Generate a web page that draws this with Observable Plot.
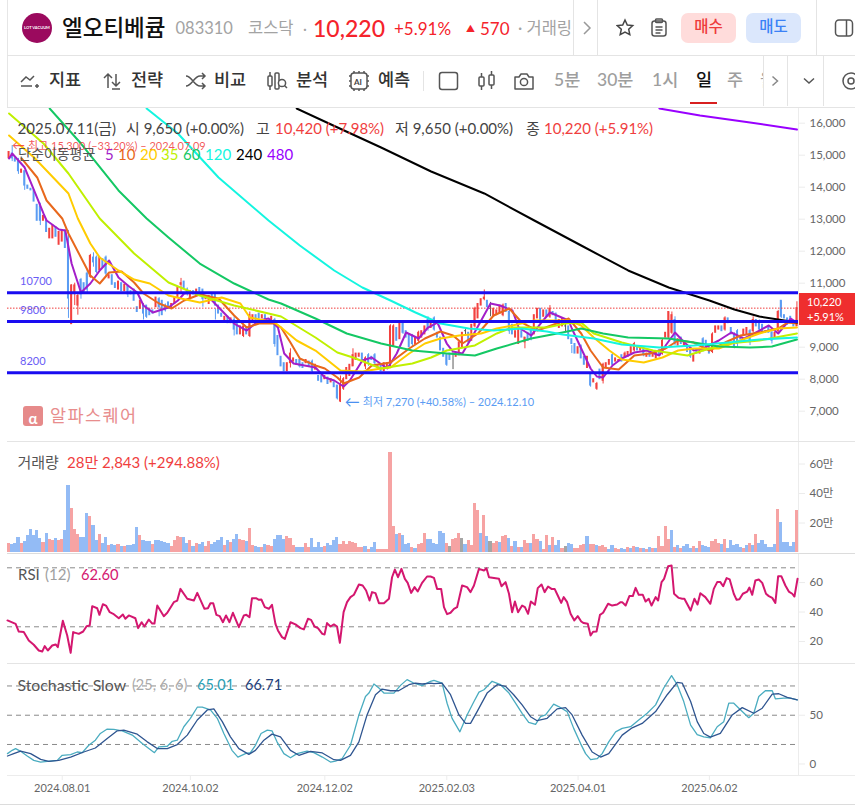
<!DOCTYPE html>
<html><head><meta charset="utf-8">
<script src="https://cdn.jsdelivr.net/npm/d3@7"></script>
<script src="https://cdn.jsdelivr.net/npm/@observablehq/plot@0.6"></script>
<style>
html,body{margin:0;padding:0;background:#fff;width:855px;height:807px;overflow:hidden;font-family:Lato,"Noto Sans CJK KR",sans-serif}
.t{position:absolute;white-space:nowrap;transform:translateY(-50%);line-height:1}
.l{position:absolute;background:#e4e4e4}
.p{position:absolute;left:0;width:855px}
.p svg{display:block}
svg.i{position:absolute;fill:none;stroke:#555;stroke-width:1.5}
</style></head><body>
<div id="root"></div>
<script>
const N = 253;
const opens = [
14900,15050,14900,14800,14450,14500,14050,13950,13900,13450,
13400,12950,12950,12400,12400,12750,12200,12300,12650,12240,
9720,10700,10300,11100,11000,11300,11200,11800,11800,11400,
11750,11800,11150,11250,11000,10800,11000,10750,10900,10750,
10800,10250,10200,10350,10300,10200,10150,10250,10500,10450,
10300,10400,10200,10350,10550,10950,11050,10800,10500,10750,
10650,10850,10800,10500,10350,10650,10650,10300,10050,9800,
9950,9750,9850,9750,9400,9350,9600,9350,9750,10000,
10050,9900,10000,9750,9800,9850,9350,
8700,8500,8250,8500,8550,8600,8600,8500,8500,8550,8550,8300,
8100,8100,8000,8050,7900,7900,7800,7300,7700,8000,8100,8400,8600,
8700,8800,8400,8750,8700,8750,8350,8450,8250,8350,8500,9050,9600,
9250,9750,9500,9400,9350,9100,9200,9300,9400,9850,9600,9900,9450,9300,8950,
8750,8800,8800,8700,8750,9000,9500,9450,9200,9650,9900,10300,10500,10450,10200,
9950,10000,10050,10000,10350,10100,9700,9300,9100,9500,9150,9450,9550,9400,9900,
10200,9950,10150,9950,10100,10050,9600,
9650,9650,9650,9250,9100,8800,9050,8700,8350,8150,7900,7700,8300,7950,8350,8450,
8750,8550,8550,8750,8700,8700,8800,8900,9000,8900,8950,8700,8850,8700,8650,8900,
8800,9300,9300,9450,9850,9050,9300,9050,9000,8900,8550,8850,8800,9250,9200,9000,
8850,9450,9550,9650,9550,9900,9600,9400,9500,9300,9350,9400,9500,9500,9850,9800,
9700,9500,9600,9450,9300,9500,10450,10000,9900,9950,9750,9650];
const closes = [
15100,14900,14800,14500,14550,14050,13950,13900,13550,12950,
12950,13100,12600,12700,12800,12450,12600,12650,12100,10520,
10930,10930,10600,10650,10700,10800,11850,11650,11350,11800,
11500,11300,11250,10950,10850,11050,10750,10950,10650,10650,
10450,10100,10450,10050,9950,10000,10050,10550,10250,10000,
10150,10200,10350,10550,10850,11000,10850,10700,10750,10650,
10800,10650,10500,10600,10600,10500,10300,10050,9950,9950,
9750,9900,9550,9400,9650,9650,9400,10000,10000,9850,
9900,10000,9800,9800,9950,9100,8750,
8400,8250,8500,8800,8650,8450,8400,8350,8600,8400,8250,8450,
7950,7900,8100,7850,8000,7750,7400,7800,8000,8350,8450,8750,8800,
8800,8600,8650,8500,8600,8500,8400,8250,8500,8500,9650,9650,9200,
9750,9450,9300,9000,9100,9300,9450,9500,9650,9600,9850,9550,9300,8900,8700,
8450,8600,8800,8800,9150,9450,9500,9150,9700,10200,10350,10500,10550,10250,10200,
10200,10150,10300,10300,10100,9500,9400,9500,9600,9300,9300,9200,9250,10000,10200,
9850,10150,9950,10200,10000,9800,9850,
9900,9650,9250,9100,8800,9000,8650,8450,8700,7800,8000,7850,8000,8450,8500,8600,
8450,8650,8600,8550,8800,8850,9000,9100,8900,9000,8750,8800,8700,8800,8850,8750,
9200,9450,10100,10000,9100,9250,9100,9150,8850,8700,8750,8800,8950,8900,9000,8800,
9400,9650,9650,9500,9900,9750,9400,9000,9100,9250,9550,9600,9150,9850,9650,9550,
9450,9450,9450,9200,9450,10100,9950,9900,9700,9750,9650,10220];
const wickBars = [1,3,5,10,19,20,21,22,23,25,26,27,28,31,38,43,44,48,50,55,57,62,66,72,75,77,85,90,93,97,105,106,107,110,114,115,117,122,123,126,129,131,134,136,140,142,146,149,152,154,158,160,165,167,173,178,180,186,188,190,193,197,200,203,209,211,212,213,216,218,222,225,229,232,233,237,238,240,244,246,247,252];
const wickHighs = [15300,14900,14500,13500,12650,10950,11000,10700,11150,11400,11900,11950,11850,11850,10950,10350,10250,10550,10350,11150,10850,10650,10200,9950,9450,10100,9900,8950,8650,8600,7800,8100,8050,8950,8700,8800,8800,9700,9700,9800,9400,9500,9950,9950,8800,8800,9550,10250,10790,10400,10350,10150,9300,9600,10300,9850,9050,8200,7900,8500,8800,8850,9150,9000,9250,10100,10100,9950,9200,8950,9300,9450,9950,9450,9550,9550,9950,9850,9500,10150,10450,10420];
const wickLows = [14800,14400,13900,12800,9900,9720,10300,10000,10500,10700,11150,11500,11300,11200,10550,9850,9900,9950,10100,10650,10600,10250,9850,9350,9300,9300,9000,8350,8350,8200,7350,7270,7650,8400,8300,8400,8400,8350,9000,9400,9000,9150,9500,9500,8400,8300,9350,9600,10450,9950,9950,9400,8950,9200,9900,9450,8800,7750,7650,7850,8400,8650,8850,8700,8750,9250,9400,9050,9000,8650,8850,8800,9500,8950,9000,9050,9450,9450,9100,9450,9900,9650];

const ma5Bars = [0,1,5,8,11,12,16,18,20,23,26,29,32,35,38,41,43,46,51,54,56,60,64,68,72,76,80,83,86,88,91,98,101,104,107,109,113,116,121,124,127,131,134,137,140,142,145,148,151,154,157,161,163,167,170,173,179,180,183,186,188,190,193,196,200,204,208,210,213,216,219,222,227,231,235,240,243,246,250,252];
const ma5Vals = [14897,15053,14615,13897,13178,12959,12678,12647,11615,10709,10990,11397,11709,11178,10928,10709,10303,10084,10240,10459,10678,10709,10553,10147,9740,9521,9834,9896,9615,8803,8490,8365,8053,7959,7771,7959,8584,8678,8334,8803,9459,9271,9615,9771,9115,8865,8803,9303,9834,10365,10303,10147,9615,9365,9740,10084,9834,9584,8959,8334,8084,8053,8428,8646,8834,8896,8740,9053,9459,9146,8896,8959,9209,9459,9271,9521,9678,9428,9896,9771];
const ma10Bars = [4,9,12,17,19,23,26,29,32,36,40,43,48,52,56,61,67,72,76,80,85,87,90,93,98,101,105,107,112,116,122,128,133,138,142,145,150,155,160,164,169,176,179,183,186,190,195,200,205,210,214,219,224,229,234,240,246,249,252];
const ma10Vals = [14897,14303,13584,13022,12553,11803,11240,10990,11334,11365,11022,10678,10365,10209,10459,10646,10521,9990,9615,9740,9740,9615,9146,8646,8428,8334,8053,7865,8053,8428,8521,8959,9271,9490,9365,9115,9428,9990,10209,9771,9521,9771,9896,9428,8896,8365,8303,8740,8803,8959,9209,9146,8896,9146,9365,9459,9584,9771,9740];
const ma20Bars = [0,8,19,22,26,29,35,40,45,51,55,61,68,74,77,85,87,92,98,106,113,119,122,128,133,138,144,151,156,161,168,179,183,187,192,196,203,209,214,219,227,232,240,246,252];
const ma20Vals = [15615,14928,13803,13022,12240,11803,11397,11115,10990,10615,10521,10397,10553,10365,9928,9771,9615,9209,8896,8271,8240,8334,8365,8803,9115,9271,9365,9428,9584,9678,9834,9834,9678,9303,8896,8615,8521,8678,8896,8959,8959,9146,9428,9584,9615];
const ma35Bars = [0,11,19,29,40,51,61,72,83,87,98,105,110,119,129,135,140,149,156,161,172,178,183,187,196,206,217,222,230,240,252];
const ma35Vals = [16303,15365,14428,13022,11928,11022,10615,10303,10053,9959,9303,8834,8678,8334,8490,8678,8896,9053,9428,9615,9615,9740,9771,9428,9146,8896,8740,8896,9115,9209,9428];
const ma60Bars = [13,23,35,44,51,61,72,83,87,98,108,119,129,140,149,156,167,177,183,190,198,211,219,227,237,244,252];
const ma60Vals = [16459,15365,13897,13022,12428,11615,10990,10490,10365,9896,9428,9115,8896,8803,8740,8959,9271,9459,9584,9428,9303,9271,9146,9021,8990,9021,9240];
const ma120Bars = [44,54,67,83,93,104,113,122,130,138,147,155,164,172,177,187,196,208,219,230,240,252];
const ma120Vals = [16459,15678,14303,12959,12178,11397,10865,10459,10084,9740,9584,9521,9584,9490,9400,9271,9084,8990,9053,9146,9240,9303];
const ma240Bars = [92,103,119,135,152,168,183,198,211,217,224,232,240,246,252];
const ma240Vals = [16459,15959,15240,14490,13803,12959,12178,11397,10865,10678,10459,10178,9959,9865,9771];
const ma480Bars = [208,221,237,252];
const ma480Vals = [16459,16240,16022,15803];
const maColors = ["#a31ec9","#e8681c","#ffcc00","#c0f000","#14c864","#14f5e0","#000000","#9900ff"];
const maNames = ["5","10","20","35","60","120","240","480"];

const levels = [10700,9800,8200];
const shownPriceTicks = [16000,15000,14000,13000,12000,11000,9000,8000,7000];

const volumes = [
6.1,5.6,6.1,10.2,6.1,7.5,11.5,15.6,11.5,14.9,
9.5,6.8,12.9,8.8,8.1,9.5,8.1,8.8,14.9,45.4,
29.8,15.6,12.2,10.2,10.2,26.4,24.4,18.3,8.1,12.2,
6.1,10.2,4.7,5.4,5,5.4,4.1,4.1,4.7,4.5,
5.4,17,11.5,8.1,7.5,7.5,5.4,8.1,8.1,7.5,
6.8,6.3,4.1,8.1,10.8,10.2,10.2,6.1,8.1,4.1,
6.1,5.4,6.8,4.1,7.5,5.4,6.8,8.1,10.2,4.7,
8.1,6.8,8.8,12.2,8.8,8.1,7.5,16.3,4.7,4.1,
3.4,3.4,5.4,4.7,4.1,8.8,11.5,11.5,8.8,10.8,
9.5,4.7,3.4,3.4,3.4,6.1,3.4,9.5,3.4,6.8,
3.4,4.1,6.1,4.7,8.1,10.2,5.4,7.5,5.4,7.5,
6.8,6.1,3.4,3.4,4.1,2,3.4,6.8,2,2,
2,2,67.8,17.6,12.2,12.9,11.5,5.4,6.1,3.4,
2.7,5.4,6.1,12.9,8.8,8.8,6.1,5.4,14.2,12.9,
6.1,4.1,8.8,9.5,12.9,9.5,5.4,8.1,5,33.2,
28.5,12.9,25.1,10.8,7.5,6.1,7.5,6.8,10.8,11.5,
9.5,4.1,7.5,3.4,3.4,8.1,6.1,6.1,12.2,8.8,
7.5,2.3,11.5,4.7,10.2,4.7,8.1,2.7,4.1,6.1,5.4,
2.7,2.7,4.7,5.4,10.8,5.4,5.4,4.7,4.1,4.7,
3.4,2,4.7,2.7,2,2.7,2,3.4,2.7,4.1,3.4,
2.7,2.7,2,3.4,2.7,2.7,10.8,4.1,17.6,8.8,
14.9,3.4,4.7,2.7,4.1,5.4,2.7,4.1,2.7,7.5,4.7,
4.1,3.4,7.5,8.8,6.1,5.4,8.8,2.7,8.1,4.7,
5.4,3.4,2.7,4.7,6.1,4.7,12.2,6.1,8.1,5.4,3.4,
3.4,5.4,29.2,20.3,6.8,6.8,4.1,6.8,28.3];
const volumeDirRows = [
"uddduddddd","duduuduudd","uuudddyddu".replace("y","u"),"dduddududd",
"ddudddddudd".slice(0,0)+"ddudddudd"+"d".slice(0,0)+"d","dduuuuddud","uddu"+"uddddu","duddu"+"uduud",
"dudu"+"uddddu","uuddduuddd","duddddduuu".slice(0,0)+"dudddduuuu","uuuuduudduu".slice(0,0)+"uuuududd"+"uu",
"uuuududdd"+"u","duuudddddd","uguuugd"+"uuu","ududguuduu",
"dududuuduu","duududdugdd","uuuuduuduu","uddUuddudud".toLowerCase(),
"udududuuuu","dududdduduD".toLowerCase(),"dduuududdd","dduduududdd".slice(0,0)+"ddududuDddd".toLowerCase(),
"dduddddd"+"u"];
const volumeDirs = volumeDirRows.join("").split("");

const rsiBars = [-0.5,2.1,3.1,4.7,6.3,7.9,9.5,10.6,11.4,12.4,13.8,14.9,15.6,17.2,18.6,19.7,20.5,22.3,23.7,24.8,25.8,26.6,28.2,28.9,30,31,32.2,33.3,35.1,36.4,37.2,38.3,40.4,41.3,42.4,43.3,44.7,45.8,46.5,47.4,49.5,50.6,52.7,53.8,54.8,57,59.1,60.2,62.5,63.6,64.4,65.3,66.3,67.4,68.4,69.4,70.5,71.6,73.5,75.1,75.9,76.9,77.7,79,79.9,80.7,81.8,83.1,84.1,85.2,86,87.3,88.2,90,91.6,93.2,94.3,95.6,96.6,97.7,98.8,100.2,100.9,101.7,102.8,103.9,104.9,105.8,107,108.1,109.2,110.3,111.9,113.1,114.2,115.3,116.1,117.2,118.3,119.9,121.5,122.5,123.4,124.4,125.5,126.6,127.5,128.6,129.7,130.7,132.1,133.7,134.8,135.9,136.9,138.2,139.1,140.1,141.2,142.3,143.3,144.9,146.5,147.6,148.7,150.3,151.9,152.7,153.5,156.7,157.5,158.8,159.9,160.9,161.8,162.8,164.1,165,166,166.9,168.2,169.1,170.3,171.3,172.4,173.5,174.5,175.5,176.6,177.4,178.5,179.6,180.8,181.9,183,183.8,185.1,186,186.8,187.9,189,190,191.6,192.9,194.5,195.6,196.1,197.2,198.4,199.5,200.4,201.4,202.7,203.6,204.6,205.5,206.8,207.6,208.7,209.5,210.8,211.9,212.7,214.2,215.3,216,218,219.2,220.2,221.1,222.7,224.3,225.4,226.5,227.5,228.4,229.5,230.5,231.8,232.7,233.6,234.7,236.1,236.8,237.7,238.7,239.8,240.9,242.1,243,244.1,245.1,246,247,248.3,249.4,250.5,251.2,252.2];
const rsiVals = [34.3,32,26.8,26.4,20.7,17.8,13.9,13.2,16.9,13.9,17.3,18,16.2,34.1,24.1,12.3,26.4,25.2,26.8,30.4,30.9,44,42.6,38.1,45.3,44.4,39.9,38.8,35.8,38.3,35.4,37.7,35.8,29.1,33.1,30.2,34.9,32.2,32.2,44.4,37.2,39.5,46.7,47.8,55.7,49,47.8,53,42.2,42.6,46,46,38.1,37.2,33.1,37.7,33.1,39.5,29.7,37.7,38.1,36.5,49.4,49.4,48.3,48.5,43.3,42.2,44.9,32,27.5,23,21.8,33.1,31.6,29.1,28.2,35.4,34.7,30.2,29.1,25.2,24.8,32.5,30.2,31.6,30.2,19.1,39.9,46.7,50.1,51.7,58.7,58,54.6,47.8,53.5,52.8,46,46,49,63.6,68.8,63.6,69.3,62.5,59.8,53,56.9,53.9,59.8,64.1,64.1,63.2,55.7,55.7,43.3,38.6,39.5,42.2,43.3,58,56.9,53.5,58,69.3,68.2,69.7,63.6,62.5,57.5,60.3,52.4,39.9,47.1,39.9,44.4,43.3,38.8,47.1,44.9,56.2,58.7,53.5,57.3,55.7,55.7,51.2,46.2,50.1,46.7,38.8,34.3,37.2,33.6,32.5,32,24.1,26.6,26.8,38.1,39.5,45.6,44.4,45.1,46.7,46.7,44.4,50.8,50.8,56.4,51.7,51.7,47.1,49,44.4,50.1,47.8,60.3,62.5,71.1,71.6,52.4,49.6,49,49,41,49,45.1,52.8,50.1,45.6,55.7,60.3,60.3,57.5,63,62.1,52.4,48.3,48.7,52.4,53.9,56.6,51.7,61.4,62.1,59.8,52.4,50.8,49.6,46.2,64.3,64.3,58,53.9,52.4,50.5,62.6];
const rsiGuides = [70,30];
const rsiTicks = [60,40,20];

const kBars = [-0.5,1,2.1,3.7,5.8,7.9,10.1,12.2,15.4,17,19.7,21.8,23.4,25.5,27.6,29.2,31.4,33.5,36.2,39.4,42.6,44.7,46.5,47.9,50.6,52.2,53.8,55.9,58,60.2,61.8,64.4,66.6,68.7,71.3,73.2,75.6,77.2,78.8,80.6,82.6,84.1,85.7,87.9,90,92.1,95.3,97.5,100.2,102.8,104.4,106.5,109.2,111.9,114,115.1,116.7,118.3,119.9,123.1,125.2,127.3,129.4,132.1,134.8,135.9,138.5,140.1,141.7,144.2,146.5,148.7,150.3,151.9,154.5,157.2,159.9,162,164.1,166.2,168.4,170,171.6,174.2,175.8,178.5,180.6,182.8,184.4,186,188.1,189.7,191.8,194,196.1,198.8,201.4,204.1,206.8,209.4,211.9,213.7,215.8,218,220.1,222.2,224.3,226.5,228.6,230.2,231.8,234,236.6,238.2,239.8,241.9,244.1,245.1,247.8,249.9,252.1];
const kVals = [10.6,14,15.8,13,8.2,3.7,2,2.6,3.7,8.9,9.5,12.3,11.6,19.2,24.4,31.3,35.8,35.4,34,29.6,20.9,15.8,11.6,17.5,18.2,23.3,24.4,38.2,46.8,58.2,58.2,55.4,46.8,31.3,14,7.1,10.6,11.6,19.2,31.3,34.7,34,22.7,10.6,6.4,10.6,13.3,11.6,7.1,2,3,5.4,19.2,50.3,69.2,72.7,82,77.9,72.7,72.7,80.6,86.5,83,80.3,84.8,85.8,83,62.3,46.8,33,50.3,64,73.7,76.1,84.8,81.3,72.7,62.3,52,42.7,40.6,48.5,50.3,61.3,58.9,53.7,36.5,20.9,10.6,4.4,5.4,10.6,22.7,33,36.5,38.2,45.1,52,60.6,77.9,90.6,81.3,64,39.9,30.2,27.8,26.8,38.2,43.4,62.3,62.3,55.4,47.5,52,69.2,75.1,75.1,66.8,67.5,67.5,65.8];
const dBars = [-0.5,1.5,3.7,6.9,10.1,12.7,15.9,19.7,23.9,27.6,31.4,34.6,36.7,41,44.2,47.4,50.6,53.8,57,60.2,63.4,65.5,68.2,70.8,73.5,76.7,78.8,81.5,84.1,86.8,90,92.7,96.4,100.2,103.9,106,109.2,111.9,114.5,117.2,119.3,122,124.6,127.9,130,132.1,134.8,135.9,138.5,141.2,143.9,146,147.6,149.7,152.9,156.1,158.8,161.4,164.1,166.8,168.9,172.1,175.3,178,180.1,183.3,186.5,189.2,191.8,196.1,199.3,202.5,206.8,210.5,213.7,215.3,218,220.1,222.2,224.3,227.5,231.3,234.5,238.2,240.9,244.1,246.2,248.9,252.1];
const dVals = [8.2,10.6,13.3,10.6,4.7,2.6,3.7,7.1,12.3,16.4,26.1,34,34.7,30.6,22.7,15.8,15.8,19.9,29.6,45.1,55.4,56.5,43.4,27.8,15.8,9.9,14,24.4,30.6,27.8,14,8.9,13,11.3,4.4,3.7,8.9,22.7,50.3,71,76.8,75.1,75.1,81.3,83,82,83,82.3,83,71,50.3,41.6,41.6,53.7,72.7,81.3,79.6,71,60.6,48.5,44.4,46.8,56.5,57.8,50.3,29.6,12.3,7.1,10.6,29.6,37.1,41.6,53.7,71,83.7,83,64,43.4,31.3,27.5,31.3,50.3,57.8,52,57.2,71.6,72,68.2,65.8];
const stochGuides = [80,50,20];
const stochTicks = [50,0];
const dateBars = [17,58,101,140,182,224];
const dateLabels = ["2024.08.01","2024.10.02","2024.12.02","2025.02.03","2025.04.01","2025.06.02"];

const UP="#f2413f", DOWN="#5a9cf3", FLAT="#5c5c5c";
const VUP="#f6a3a3", VDOWN="#93bbf5", VFLAT="#a5a5a5";
const AXC="#666", LINEC="#ececec";
const root=document.getElementById("root");
const fontStack='Lato,"Noto Sans CJK KR",sans-serif';

function place(plot,top){const d=document.createElement("div");d.className="p";d.style.top=top+"px";d.appendChild(plot);root.appendChild(d);}
function T(x,y,text,size,color,extra=""){const s=document.createElement("div");s.className="t";s.style.cssText=`left:${x}px;top:${y}px;font-size:${size}px;color:${color};${extra}`;s.textContent=text;root.appendChild(s);return s;}
function L(x,y,w,h,c){const s=document.createElement("div");s.className="l";s.style.cssText=`left:${x}px;top:${y}px;width:${w}px;height:${h}px;${c?`background:${c}`:""}`;root.appendChild(s);return s;}
function I(x,y,w,h,inner){const wrap=document.createElement("div");wrap.innerHTML=`<svg class="i" style="left:${x}px;top:${y}px" width="${w}" height="${h}" viewBox="0 0 ${w} ${h}">${inner}</svg>`;root.appendChild(wrap);}
const base={width:855,marginLeft:7,marginRight:57,marginTop:0,x:{domain:[0,N],axis:null},style:{fontFamily:fontStack,background:"transparent",overflow:"visible"}};
const rightAxis=(ticks,fmt,size=11.5)=>Plot.axisY({anchor:"right",ticks,tickFormat:fmt,tickSize:6,tickPadding:5,label:null,stroke:LINEC,fill:AXC,fontSize:size});
const frameRule=Plot.ruleX([N],{stroke:LINEC,strokeWidth:1});

/* price panel */
const bars=d3.range(opens.length);
const maSeries=[[ma5Bars,ma5Vals],[ma10Bars,ma10Vals],[ma20Bars,ma20Vals],[ma35Bars,ma35Vals],[ma60Bars,ma60Vals],[ma120Bars,ma120Vals],[ma240Bars,ma240Vals],[ma480Bars,ma480Vals]];
place(Plot.plot({...base,height:333,marginBottom:0,y:{domain:[6053,16459],axis:null},marks:[
  frameRule,
  rightAxis(shownPriceTicks,d3.format(",")),
  Plot.ruleX(wickBars,{x:d=>d+.5,y1:(d,i)=>wickLows[i],y2:(d,i)=>wickHighs[i],stroke:(d,i)=>closes[d]>opens[d]?UP:closes[d]<opens[d]?DOWN:FLAT,strokeWidth:1,clip:true}),
  Plot.rect(bars,{x1:d=>d+.18,x2:d=>d+.82,y1:d=>opens[d],y2:d=>closes[d],fill:d=>closes[d]>opens[d]?UP:closes[d]<opens[d]?DOWN:FLAT,insetTop:-.5,insetBottom:-.5,clip:true}),
  Plot.ruleY([closes[closes.length-1]],{stroke:"#f03b3b",strokeWidth:1,strokeDasharray:"1.5 1.5"}),
  ...maSeries.map(([b,v],k)=>Plot.line(b,{x:d=>d+.5,y:(d,i)=>v[i],stroke:maColors[k],strokeWidth:2,strokeLinejoin:"round",curve:"linear",clip:true})),
  Plot.ruleY(levels,{stroke:"#1a0cf0",strokeWidth:3}),
  Plot.text(levels,{x:4,y:d=>d,dy:-11,text:d=>String(d),textAnchor:"start",fill:"#6a5cf5",fontSize:11}),
  Plot.text([7270],{x:106.6,y:d=>d,text:d=>"←",textAnchor:"start",dx:4,fill:"#4a90f0",fontSize:15}),
  Plot.text([7270],{x:106.6,y:d=>d,text:d=>"최저 7,270 (+40.58%) – 2024.12.10",textAnchor:"start",dx:22,fill:"#5a9cf3",fontSize:11})
]}),108);

/* volume panel */
const volColor={u:VUP,d:VDOWN,g:VFLAT};
place(Plot.plot({...base,height:111,marginBottom:1,y:{domain:[0,74.6],axis:null},marks:[
  frameRule,
  rightAxis([20,40,60],d=>d+"만"),
  Plot.rectY(volumes,{x1:(d,i)=>i,x2:(d,i)=>i+1,y:d=>d,fill:(d,i)=>volColor[volumeDirs[i]]||VDOWN,shapeRendering:"crispEdges"})
]}),442);

/* RSI panel */
place(Plot.plot({...base,height:110,marginBottom:0,y:{domain:[5.1,79.7],axis:null},marks:[
  frameRule,
  rightAxis(rsiTicks,d=>d),
  Plot.ruleY(rsiGuides,{stroke:"#8a8a8a",strokeWidth:1,strokeDasharray:"5 4"}),
  Plot.line(rsiBars,{x:d=>d+.5,y:(d,i)=>rsiVals[i],stroke:"#d4176f",strokeWidth:2,strokeLinejoin:"round"})
]}),553);

/* stochastic panel */
place(Plot.plot({...base,height:140,marginBottom:29,y:{domain:[-11.8,102],axis:null},marks:[
  Plot.ruleX([N],{y1:-11.8,y2:102,stroke:LINEC}),
  rightAxis(stochTicks,d=>d),
  Plot.ruleY(stochGuides,{stroke:"#8a8a8a",strokeWidth:1,strokeDasharray:"5 4"}),
  Plot.line(kBars,{x:d=>d+.5,y:(d,i)=>kVals[i],stroke:"#4aacc0",strokeWidth:1.3,strokeLinejoin:"round"}),
  Plot.line(dBars,{x:d=>d+.5,y:(d,i)=>dVals[i],stroke:"#2f5590",strokeWidth:1.3,strokeLinejoin:"round"}),
  Plot.axisX({anchor:"bottom",ticks:dateBars.map(d=>d+.5),tickFormat:(d,i)=>dateLabels[i],tickSize:5,tickPadding:4,label:null,stroke:LINEC,fill:AXC,fontSize:11})
]}),664);

/* chrome: rules between panels */
L(7,0,1,108,"#e6e6e6");
L(7,55,848,1,"#e4e4e4");L(7,107,848,1,"#e4e4e4");
L(573,0,1,55);L(597,0,1,55);L(816,0,1,55);
L(763,56,1,50);L(787,56,1,50);L(823,56,1,50);
L(7,441,848,1);L(7,552.5,848,1,"#dcdcdc");L(7,663,848,1);L(7,775,848,1,"#ececec");L(0,804,855,1,"#dcdcdc");

/* header row */
const logo=document.createElement("div");
logo.style.cssText="position:absolute;left:22px;top:13px;width:30px;height:30px;border-radius:50%;background:#9b0a5e;color:#fff;font-size:4px;line-height:30px;text-align:center;font-weight:700;overflow:hidden";
logo.textContent="LOT VACUUM";root.appendChild(logo);
T(62,27.5,"엘오티베큠",22.5,"#111","font-weight:500");
T(175.5,27.5,"083310",16.5,"#a3a3a3");
T(248,27.5,"코스닥",16.5,"#a3a3a3");
T(303,27.5,"·",15,"#a3a3a3");
T(313,28,"10,220",23,"#f5232b","font-weight:500");
T(394,28,"+5.91%",17,"#f5232b");
T(466,28,"▲",9,"#f5232b");
T(480,28,"570",17,"#f5232b");
T(518,28,"· 거래링",16.5,"#a3a3a3","width:55px;overflow:hidden");
I(582,20,10,16,'<path d="M2 2l6 6-6 6" stroke="#999"/>');
I(616,18,19,19,'<path d="M9 2l2.3 5 5.4.6-4 3.7 1.1 5.3L9 14l-4.8 2.6 1.1-5.3-4-3.7 5.4-.6z" stroke="#444"/>');
I(651,18,16,19,'<rect x="1" y="3" width="14" height="15" rx="2.5"/><rect x="4.5" y="1" width="7" height="3.5" rx="1"/><path d="M4.5 9h7M4.5 12h7M4.5 15h5"/>');
const btn=(x,bg,fg,txt)=>{const b=document.createElement("div");b.style.cssText=`position:absolute;left:${x}px;top:13px;width:55px;height:30px;border-radius:7px;background:${bg};color:${fg};font-size:15.5px;font-weight:500;line-height:27px;text-align:center`;b.textContent=txt;root.appendChild(b);};
btn(681,"#ffdcdb","#ee3a3a","매수");btn(746,"#dbe7fc","#3b82f6","매도");
I(834,18,20,20,'<rect x="1.5" y="2" width="17" height="16" rx="3.5"/><path d="M12.5 2v16"/>');

/* toolbar */
[[49,"지표"],[131,"전략"],[214,"비교"],[296,"분석"],[378,"예측"]].forEach(([x,s])=>T(x,80,s,17.5,"#333","font-weight:500"));
I(20,72,20,18,'<path d="M1 10l5-5 4 3 4-4M1 14h11M15 14h4M17 12v4" />');
I(102,72,20,18,'<path d="M6 16V2M2 6l4-4 4 4M14 2v12M10 10l4 4 4-4M10 17h8"/>');
I(185,72,22,18,'<path d="M1 4c6 0 8 10 14 10h5M1 14c6 0 8-10 14-10h5M17 1l3 3-3 3M17 11l3 3-3 3"/>');
I(266,70,22,22,'<rect x="2" y="6" width="4" height="10" rx="1"/><path d="M4 2v4M4 16v4"/><rect x="9" y="3" width="4" height="16" rx="1"/><circle cx="16" cy="13" r="3.6" fill="#fff"/><path d="M18.5 15.5l2.5 2.5"/>');
I(348,70,22,22,'<rect x="3" y="3" width="16" height="16" rx="3"/><path d="M6 1v2M11 1v2M16 1v2M6 19v2M11 19v2M16 19v2M1 6h2M1 11h2M1 16h2M19 6h2M19 11h2M19 16h2"/><text x="6" y="15" font-size="8" fill="#444" stroke="none" font-weight="700">AI</text>');
L(423,71,1,20,"#e4e4e4");
I(438,71,21,20,'<rect x="1.5" y="1.5" width="18" height="17" rx="2.5"/>');
I(477,70,20,22,'<rect x="2" y="7" width="5" height="9" rx="1"/><path d="M4.5 3v4M4.5 16v4"/><rect x="12" y="5" width="5" height="10" rx="1"/><path d="M14.5 1v4M14.5 15v4"/>');
I(513,71,22,20,'<path d="M2 6h4l2-3h6l2 3h4v12H2z" stroke-linejoin="round"/><circle cx="11" cy="11" r="3.6"/>');
[[554,"5분"],[597,"30분"],[652,"1시"],[727,"주"]].forEach(([x,s])=>T(x,80,s,17.5,"#9e9e9e","font-weight:500"));
T(696,80,"일",17.5,"#111","font-weight:500");
T(760,80,"월",17.5,"#9e9e9e","width:3px;overflow:hidden");
L(690,102,27,2,"#d81f1f");
I(771,75,8,12,'<path d="M1.5 1.5l5 4.5-5 4.5" stroke="#888"/>');
I(803,77,12,8,'<path d="M1 1.5l5 4.5 5-4.5" stroke="#555"/>');
I(842,71,13,20,'<circle cx="9" cy="10" r="3"/><circle cx="9" cy="10" r="8"/>');

/* legends */
T(17.5,128,"2025.07.11(금)",15,"#444");
T(126,128,"시 9,650 (+0.00%)",15,"#444");
T(256,128,"고",15,"#444");T(275,128,"10,420 (+7.98%)",15,"#f03e3e");
T(395,128,"저 9,650 (+0.00%)",15,"#444");
T(526,128,"종",15,"#444");T(544,128,"10,220 (+5.91%)",15,"#f03e3e");
T(12,144.5,"←",13,"rgba(240,60,60,.85)");
T(28,144.5,"최고 15,300 (–33.20%) – 2024.07.09",11,"rgba(240,60,60,.85)");
T(18,154,"단순이동평균",14,"#555");
[105,118,140,161,183,205,236,267].forEach((x,k)=>T(x,154,maNames[k],15,maColors[k]));
T(17.5,462,"거래량",15,"#555");T(67,462,"28만 2,843 (+294.88%)",15,"#f03e3e");
T(18,573.5,"RSI",15,"#555");T(45,573.5,"(12)",15,"#a0a0a0");T(81,573.5,"62.60",14.7,"#d4176f");
T(17.5,685,"Stochastic Slow",15.8,"#555");T(132,685,"(25, 6, 6)",14.5,"#aaa");T(197,685,"65.01",14.5,"#2a9db3");T(245,685,"66.71",14.5,"#1f3f7a");

/* price tag */
const tag=document.createElement("div");
tag.style.cssText="position:absolute;left:799px;top:293px;width:56px;height:32px;background:#ef2e2e;color:#fff;font-size:11px;line-height:15px;text-align:left;padding:1px 0 0 8px;box-sizing:border-box";
tag.innerHTML="10,220<br>+5.91%";root.appendChild(tag);

/* watermark */
const mark=document.createElement("div");
mark.style.cssText="position:absolute;left:23px;top:406px;width:20px;height:20px;border-radius:3px;background:#e68a8a;color:#fff;font-size:15px;line-height:24px;text-align:center;font-weight:700";
mark.textContent="α";root.appendChild(mark);
T(50,416,"알파스퀘어",17.5,"#e88d8d","letter-spacing:1.4px");
</script>
</body></html>
